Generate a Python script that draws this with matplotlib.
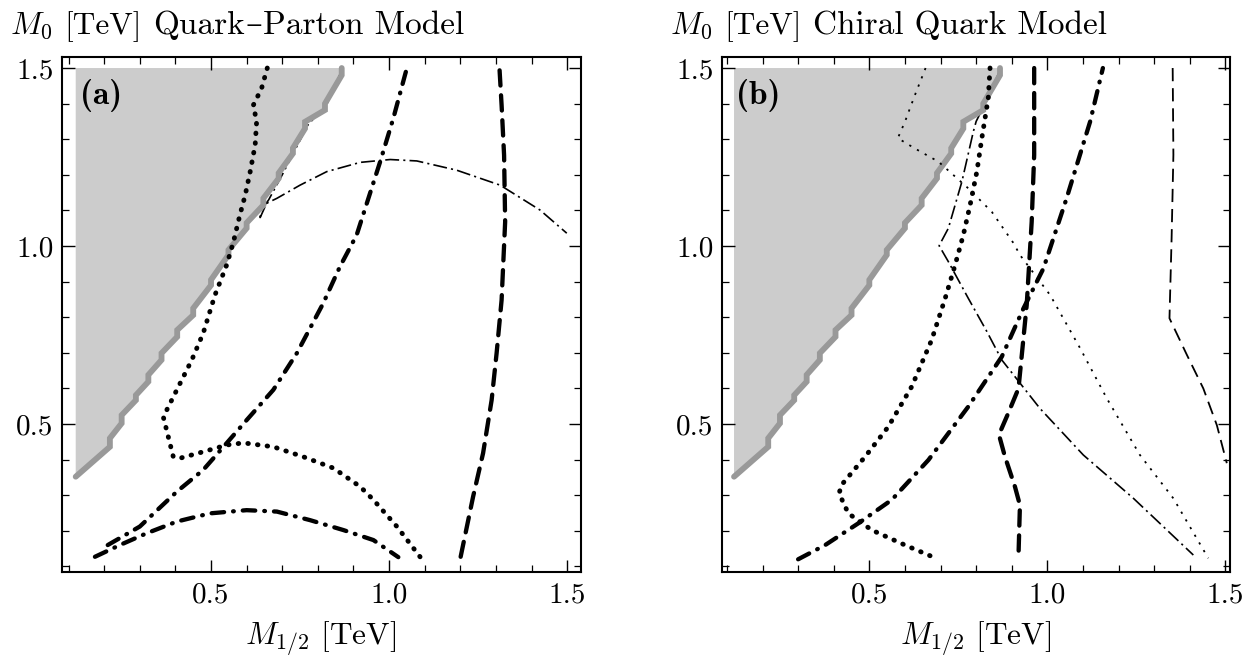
import matplotlib
matplotlib.use('Agg')
import matplotlib.pyplot as plt
from matplotlib.ticker import MultipleLocator, FormatStrFormatter

plt.rcParams['font.family'] = ['cmr10', 'DejaVu Serif']
plt.rcParams['mathtext.fontset'] = 'cm'
plt.rcParams['axes.formatter.use_mathtext'] = True
plt.rcParams['lines.scale_dashes'] = False

# ---------------- data ----------------
# excluded region boundary (same in both panels)
bnd_x = [0.12, 0.216, 0.216, 0.249, 0.249, 0.289, 0.289, 0.324, 0.324, 0.361, 0.361,
         0.405, 0.405, 0.45, 0.45, 0.50, 0.50, 0.549, 0.549, 0.60, 0.60, 0.647, 0.647,
         0.69, 0.69, 0.73, 0.73, 0.764, 0.764, 0.82, 0.82, 0.867, 0.867]
bnd_y = [0.352, 0.436, 0.46, 0.502, 0.525, 0.567, 0.581, 0.619, 0.638, 0.68, 0.699,
         0.745, 0.764, 0.806, 0.825, 0.89, 0.905, 0.975, 0.989, 1.05, 1.065, 1.115, 1.134,
         1.19, 1.205, 1.26, 1.275, 1.33, 1.349, 1.382, 1.40, 1.48, 1.50]
region_left = 0.12
region_top = 1.5

# panel (a): Quark-Parton Model
a1_x = [0.658, 0.642, 0.619, 0.628, 0.624, 0.61, 0.596, 0.581, 0.563, 0.544, 0.511, 0.478,
        0.446, 0.399, 0.366, 0.394, 0.413, 0.478, 0.544, 0.591, 0.675, 0.759, 0.844, 0.919,
        0.956, 1.022, 1.087]
a1_y = [1.5, 1.443, 1.396, 1.349, 1.284, 1.209, 1.143, 1.087, 1.012, 0.947, 0.862, 0.755,
        0.68, 0.586, 0.52, 0.408, 0.404, 0.422, 0.441, 0.447, 0.436, 0.408, 0.376, 0.324,
        0.287, 0.212, 0.127]
a2_x = [0.21, 0.3, 0.404, 0.478, 0.535, 0.6, 0.675, 0.741, 0.815, 0.862, 0.909, 0.975, 1.012, 1.05]
a2_y = [0.16, 0.212, 0.31, 0.371, 0.436, 0.511, 0.596, 0.699, 0.839, 0.942, 1.031, 1.237, 1.359, 1.5]
a3_x = [0.174, 0.244, 0.319, 0.404, 0.497, 0.6, 0.685, 0.778, 0.872, 0.956, 1.026]
a3_y = [0.127, 0.16, 0.193, 0.226, 0.249, 0.258, 0.254, 0.23, 0.202, 0.174, 0.126]
a4_x = [1.201, 1.236, 1.264, 1.288, 1.302, 1.316, 1.326, 1.323, 1.316, 1.31]
a4_y = [0.127, 0.296, 0.418, 0.567, 0.699, 0.848, 1.068, 1.255, 1.396, 1.5]
a5_x = [0.87, 0.826, 0.772, 0.736, 0.70, 0.662, 0.64, 0.638, 0.656, 0.685, 0.75, 0.825,
        0.919, 1.003, 1.078, 1.19, 1.312, 1.424, 1.499]
a5_y = [1.5, 1.40, 1.34, 1.27, 1.20, 1.13, 1.10, 1.08, 1.12, 1.134, 1.171, 1.209,
        1.235, 1.243, 1.239, 1.213, 1.171, 1.101, 1.036]

# panel (b): Chiral Quark Model
b1_x = [0.658, 0.628, 0.6, 0.58, 0.628, 0.694, 0.778, 0.844, 0.905, 0.923, 1.008, 1.092,
        1.167, 1.26, 1.354, 1.452]
b1_y = [1.5, 1.424, 1.349, 1.303, 1.274, 1.237, 1.162, 1.096, 1.008, 0.975, 0.862, 0.713,
        0.572, 0.413, 0.291, 0.123]
b2_x = [0.87, 0.83, 0.80, 0.792, 0.76, 0.722, 0.696, 0.722, 0.778, 0.83, 0.872, 0.909,
        0.979, 1.101, 1.242, 1.41]
b2_y = [1.5, 1.41, 1.35, 1.321, 1.181, 1.05, 1.001, 0.956, 0.853, 0.76, 0.68, 0.633,
        0.544, 0.413, 0.291, 0.132]
b3_x = [0.839, 0.834, 0.816, 0.802, 0.783, 0.764, 0.741, 0.713, 0.675, 0.619, 0.553, 0.488,
        0.422, 0.415, 0.441, 0.507, 0.6, 0.694]
b3_y = [1.5, 1.415, 1.303, 1.209, 1.115, 1.031, 0.947, 0.853, 0.736, 0.605, 0.492, 0.408,
        0.329, 0.305, 0.249, 0.202, 0.16, 0.12]
b4_x = [0.3, 0.376, 0.469, 0.563, 0.666, 0.778, 0.872, 0.933, 0.989, 1.054, 1.12, 1.156]
b4_y = [0.12, 0.16, 0.221, 0.287, 0.399, 0.549, 0.689, 0.825, 0.937, 1.134, 1.349, 1.5]
b5_x = [0.963, 0.963, 0.956, 0.942, 0.919, 0.89, 0.864, 0.881, 0.909, 0.923, 0.919]
b5_y = [1.5, 1.256, 1.068, 0.834, 0.6, 0.53, 0.47, 0.408, 0.324, 0.272, 0.132]
b6_x = [1.352, 1.354, 1.349, 1.343, 1.392, 1.438, 1.476, 1.504]
b6_y = [1.5, 1.256, 1.022, 0.797, 0.694, 0.6, 0.497, 0.39]

ylabel_var = r'$M_0$'
ylabel_unit = '[TeV]'
model_names = [['Quark', '–', 'Parton Model'], ['Chiral Quark Model']]
panel_tags = ['(a)', '(b)']
xlabel = r'$M_{1/2}$ [TeV]'
tick_vals = [0.5, 1.0, 1.5]

# ---------------- styles ----------------
thick_dot = dict(color='black', lw=3.5, dashes=(0.4, 6.6), dash_capstyle='round')
thick_dashdot = dict(color='black', lw=3.1, dashes=(9, 6.5, 0.5, 6.5), dash_capstyle='round')
thick_dash = dict(color='black', lw=3.1, dashes=(11, 7), dash_capstyle='round')
thin_dashdot = dict(color='black', lw=1.2, dashes=(10, 3, 1.5, 3))
thin_dot = dict(color='black', lw=1.3, dashes=(1.6, 4.8))
thin_dash = dict(color='black', lw=1.3, dashes=(9.5, 5))

LABEL_FS = 22.5
MODEL_FS = 24

W, H = 1253, 657
fig = plt.figure(figsize=(W / 100, H / 100), dpi=100)
axa = fig.add_axes([62 / W, 85 / H, 519 / W, 515 / H])
axb = fig.add_axes([722 / W, 85 / H, 508 / W, 515 / H])

for ax, xl in ((axa, (0.0815, 1.539)), (axb, (0.0862, 1.513))):
    ax.set_xlim(*xl)
    ax.set_ylim(0.0843, 1.531)
    poly_x = [region_left] + bnd_x + [region_left]
    poly_y = [bnd_y[0]] + bnd_y + [region_top]
    ax.fill(poly_x, poly_y, color='#cccccc', lw=0, zorder=1)
    ax.plot(bnd_x, bnd_y, color='#999999', lw=4.2, solid_capstyle='round',
            solid_joinstyle='miter', zorder=3)
    ax.set_xticks(tick_vals)
    ax.set_yticks(tick_vals)
    ax.xaxis.set_minor_locator(MultipleLocator(0.1))
    ax.yaxis.set_minor_locator(MultipleLocator(0.1))
    ax.xaxis.set_major_formatter(FormatStrFormatter('%.1f'))
    ax.yaxis.set_major_formatter(FormatStrFormatter('%.1f'))
    ax.tick_params(which='both', direction='in', top=True, right=True, labelsize=21)
    ax.tick_params(which='major', length=9, width=1.0)
    ax.tick_params(which='minor', length=4.8, width=0.9)
    ax.tick_params(axis='x', pad=7)
    ax.tick_params(axis='y', pad=6)
    for s in ax.spines.values():
        s.set_linewidth(1.5)

# panel a curves
axa.plot(a5_x, a5_y, zorder=2, **thin_dashdot)
axa.plot(a1_x, a1_y, zorder=4, **thick_dot)
axa.plot(a2_x, a2_y, zorder=4, **thick_dashdot)
axa.plot(a3_x, a3_y, zorder=4, **thick_dashdot)
axa.plot(a4_x, a4_y, zorder=4, **thick_dash)

# panel b curves
axb.plot(b2_x, b2_y, zorder=2, **thin_dashdot)
axb.plot(b1_x, b1_y, zorder=4, **thin_dot)
axb.plot(b6_x, b6_y, zorder=4, **thin_dash)
axb.plot(b3_x, b3_y, zorder=4, **thick_dot)
axb.plot(b4_x, b4_y, zorder=4, **thick_dashdot)
axb.plot(b5_x, b5_y, zorder=4, **thick_dash)

axa.text(0.133, 1.40, panel_tags[0], family='cmb10', fontsize=24, va='baseline', zorder=5)
axb.text(0.126, 1.40, panel_tags[1], family='cmb10', fontsize=24, va='baseline', zorder=5)

# titles (top-left of each panel), built from pieces
renderer = fig.canvas.get_renderer()
base_y = 1 - 34 / H
for x0, names in ((10, model_names[0]), (670, model_names[1])):
    fig.text(x0 / W, base_y, ylabel_var, fontsize=LABEL_FS, ha='left', va='baseline')
    fig.text((x0 + 54) / W, base_y, ylabel_unit, fontsize=LABEL_FS, ha='left', va='baseline')
    xpix = x0 + 143
    for piece in names:
        fam = 'DejaVu Serif' if piece == '–' else 'cmr10'
        t = fig.text(xpix / W, base_y, piece, fontsize=MODEL_FS, family=fam,
                     ha='left', va='baseline')
        bb = t.get_window_extent(renderer)
        xpix = bb.x1 + (1 if piece in ('–', 'Quark') else 0)

fig.text(321 / W, 1 - 645 / H, xlabel, fontsize=LABEL_FS, ha='center', va='baseline')
fig.text(976 / W, 1 - 645 / H, xlabel, fontsize=LABEL_FS, ha='center', va='baseline')

fig.savefig('out.png', dpi=100)
